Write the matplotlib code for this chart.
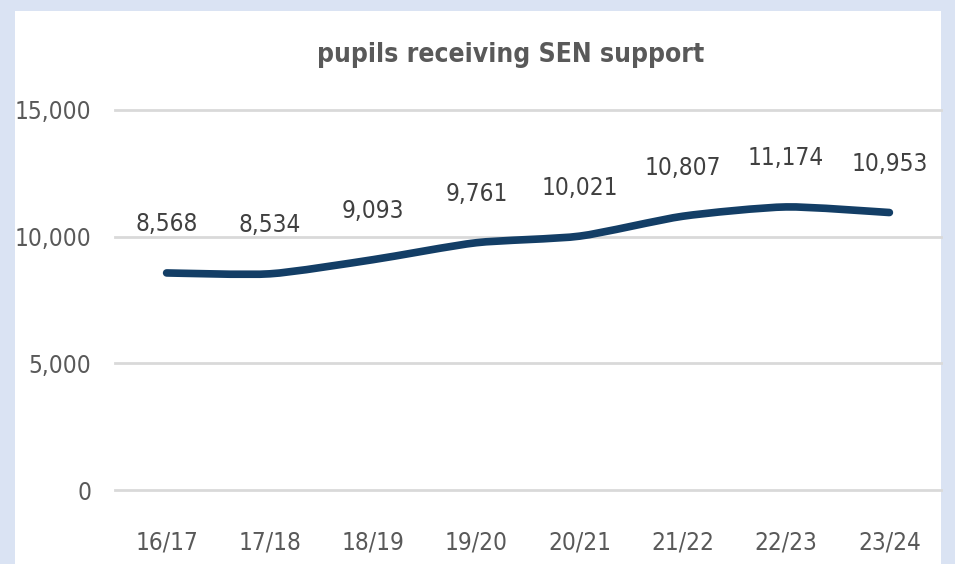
import matplotlib
matplotlib.use('Agg')
import matplotlib.pyplot as plt
from matplotlib.patches import Rectangle, PathPatch
from matplotlib.path import Path
import numpy as np

years = ['16/17', '17/18', '18/19', '19/20', '20/21', '21/22', '22/23', '23/24']
pupils = [8568, 8534, 9093, 9761, 10021, 10807, 11174, 10953]

plt.rcParams['font.family'] = ['DejaVu Sans']
plt.rcParams['font.stretch'] = 'condensed'

W, H = 955, 564
fig = plt.figure(figsize=(W / 100, H / 100), dpi=100)
fig.patch.set_facecolor('#dae3f3')
fig.patches.append(Rectangle((15 / W, 0), 926 / W, (H - 11) / H, transform=fig.transFigure,
                             facecolor='white', edgecolor='none', zorder=-10))

ax = fig.add_axes([115 / W, 1 - 490 / H, (941 - 115) / W, (490 - 110) / H])
ax.set_facecolor('none')

# smoothed line (Excel style) via bezier segments through the data
x = np.arange(len(pupils), dtype=float)
y = np.array(pupils, dtype=float)
k = 9.0
verts = [(x[0], y[0])]
codes = [Path.MOVETO]
for i in range(len(x) - 1):
    p0 = (x[max(i - 1, 0)], y[max(i - 1, 0)])
    p1 = (x[i], y[i])
    p2 = (x[i + 1], y[i + 1])
    p3 = (x[min(i + 2, len(x) - 1)], y[min(i + 2, len(x) - 1)])
    c1 = (p1[0] + (p2[0] - p0[0]) / k, p1[1] + (p2[1] - p0[1]) / k)
    c2 = (p2[0] - (p3[0] - p1[0]) / k, p2[1] - (p3[1] - p1[1]) / k)
    verts += [c1, c2, p2]
    codes += [Path.CURVE4] * 3
ax.add_patch(PathPatch(Path(verts, codes), facecolor='none', edgecolor='#133e66',
                       lw=5.5, capstyle='round', joinstyle='round', zorder=3))

for i, v in enumerate(pupils):
    ax.annotate(f'{v:,}', xy=(i, v), xytext=(0, 35), textcoords='offset points',
                ha='center', va='center', fontsize=17.5, color='#404040')

ax.set_xlim(-0.5, len(years) - 0.5)
ax.set_ylim(0, 15000)
ax.set_yticks([0, 5000, 10000, 15000])
ax.set_yticklabels([f'{t:,}' for t in [0, 5000, 10000, 15000]])
ax.set_xticks(x)
ax.set_xticklabels(years)
ax.tick_params(axis='both', length=0, labelsize=17.5, labelcolor='#595959')
ax.tick_params(axis='y', pad=17)
ax.tick_params(axis='x', pad=29)
ax.grid(axis='y', color='#d9d9d9', lw=2)
for gl in ax.get_ygridlines():
    gl.set_clip_on(False)
ax.set_axisbelow(True)
for s in ax.spines.values():
    s.set_visible(False)

fig.text(511 / W, 1 - 55 / H, 'pupils receiving SEN support', ha='center', va='center',
         fontsize=19, fontweight='bold', color='#595959')

fig.savefig('out.png', dpi=100)
